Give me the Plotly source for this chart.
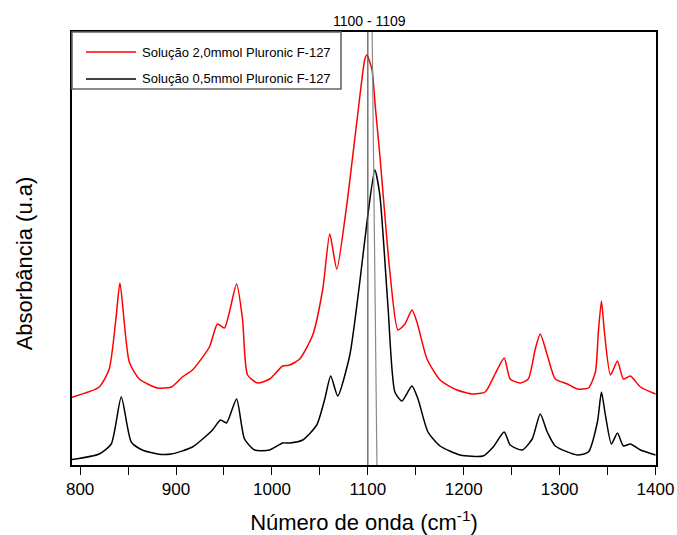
import plotly.graph_objects as go

# Wavenumbers (cm-1) and absorbance (arbitrary units)
red_x = [788.5, 819.9, 830.3, 837.3, 841.5, 851.2, 861.7, 880.5, 895.1, 906.6, 917.1, 934.8,
         943.2, 950.5, 963.1, 969.3, 974.6, 985.0, 997.6, 1011.2, 1018.5, 1028.9, 1042.5,
         1053.0, 1060.3, 1067.6, 1078.0, 1088.5, 1096.9, 1099.0, 1104.2, 1108.0, 1112.5, 1123.0,
         1131.4, 1138.7, 1146.0, 1151.2, 1161.7, 1175.3, 1193.0, 1209.8, 1222.3, 1232.7,
         1242.2, 1248.4, 1258.9, 1267.3, 1274.6, 1279.8, 1287.1, 1295.5, 1308.0, 1318.5,
         1330.0, 1337.3, 1340.4, 1343.6, 1346.7, 1353.0, 1360.3, 1366.5, 1373.8, 1384.3, 1400.0]
red_y = [67, 78, 96, 146, 182, 103, 86, 77, 78, 88, 95, 118,
         141, 137, 181, 146, 90, 82, 86, 99, 100, 106, 130,
         176, 231, 196, 260, 343, 406, 410, 396, 356, 310, 193,
         135, 141, 155, 143, 106, 85, 75, 71, 73, 91,
         107, 86, 82, 86, 116, 131, 110, 86, 81, 76,
         77, 93, 133, 164, 133, 90, 104, 86, 89, 78, 71]

black_x = [788.5, 819.9, 832.4, 842.9, 853.3, 864.8, 880.5, 895.1, 917.1, 938.0, 946.3, 952.6,
           963.1, 971.4, 981.9, 997.6, 1011.2, 1018.5, 1032.1, 1046.7, 1055.1, 1061.3, 1068.6,
           1081.2, 1091.6, 1100.0, 1107.3, 1112.5, 1120.9, 1128.2, 1135.5, 1146.0, 1152.3,
           1162.7, 1175.3, 1196.2, 1220.2, 1230.7, 1242.2, 1248.4, 1261.0, 1271.4, 1279.8,
           1287.1, 1295.5, 1318.5, 1330.0, 1339.4, 1343.6, 1347.7, 1354.0, 1360.3, 1366.5,
           1373.8, 1384.3, 1400.0]
black_y = [5, 11, 21, 68, 23, 15, 11, 11, 18, 35, 45, 42,
           66, 26, 15, 15, 22, 22, 25, 40, 66, 89, 69,
           110, 183, 250, 295, 270, 160, 73, 64, 79, 66,
           33, 19, 10, 9, 18, 33, 20, 15, 26, 51,
           33, 19, 10, 13, 43, 73, 50, 21, 32, 19,
           21, 15, 10]

series_names = ["Solução 2,0mmol Pluronic F-127", "Solução 0,5mmol Pluronic F-127"]
series_colors = ["#ff0000", "#000000"]
marker_lines = [1100, 1109]
marker_label = "1100 - 1109"
x_ticks = [800, 900, 1000, 1100, 1200, 1300, 1400]
y_title = "Absorbância (u.a)"

FONT = "Liberation Sans, Arial, sans-serif"

fig = go.Figure()
fig.add_trace(go.Scatter(x=red_x, y=red_y, mode="lines", name=series_names[0], showlegend=False,
                         line=dict(color=series_colors[0], width=1.5, shape="spline", smoothing=0.6)))
fig.add_trace(go.Scatter(x=black_x, y=black_y, mode="lines", name=series_names[1], showlegend=False,
                         line=dict(color=series_colors[1], width=1.5, shape="spline", smoothing=0.6)))

# marker lines (the second one is drawn slightly slanted, as in the original)
fig.add_shape(type="line", x0=marker_lines[0], x1=marker_lines[0], y0=0, y1=1, xref="x", yref="paper",
              line=dict(color="#505050", width=1.2))
fig.add_shape(type="line", x0=marker_lines[1] + 0.5, x1=marker_lines[1] - 4.5, y0=0, y1=1, xref="x", yref="paper",
              line=dict(color="#8a8a8a", width=1.2))
fig.add_annotation(x=1102, y=1, xref="x", yref="paper",
                   text=marker_label, showarrow=False, yanchor="bottom", yshift=1,
                   font=dict(family=FONT, size=14, color="#000"))

# y-axis title (placed slightly below centre, as in the original)
fig.add_annotation(xref="paper", yref="paper", x=-0.082, y=0.466, text=y_title, textangle=-90,
                   showarrow=False, xanchor="center", yanchor="middle",
                   font=dict(family=FONT, size=22, color="#000"))

# legend box drawn by hand
fig.add_shape(type="rect", xref="paper", yref="paper", x0=0, x1=0.4606, y0=0.8684, y1=1.0,
              fillcolor="white", line=dict(color="#666666", width=1.6), layer="above")
legend_y = [0.9538, 0.8915]
for name, color, ly in zip(series_names, series_colors, legend_y):
    fig.add_shape(type="line", xref="paper", yref="paper", x0=0.024, x1=0.1096, y0=ly, y1=ly,
                  line=dict(color=color, width=1.5), layer="above")
    fig.add_annotation(xref="paper", yref="paper", x=0.1164, y=ly, text=name, showarrow=False,
                       xanchor="left", yanchor="middle", font=dict(family=FONT, size=13, color="#000"))

fig.update_layout(
    width=677, height=535,
    margin=dict(l=72, r=21, t=32, b=70),
    paper_bgcolor="white", plot_bgcolor="white",
    font=dict(family=FONT, color="#000"),
    showlegend=False,
    xaxis=dict(range=[791.5, 1400.5], tickvals=x_ticks, ticks="outside", ticklen=8, tickwidth=1.2,
               tickcolor="#000", showline=True, linecolor="#000", linewidth=1.5, mirror=True,
               showgrid=False, zeroline=False, tickfont=dict(family=FONT, size=17), automargin=False,
               minor=dict(ticks="outside", dtick=50, tick0=800, ticklen=8, tickwidth=1.2, tickcolor="#000"),
               title=dict(text="Número de onda (cm<sup>-1</sup>)", font=dict(family=FONT, size=22), standoff=17)),
    yaxis=dict(range=[0, 433], showticklabels=False, ticks="", showline=True, linecolor="#000",
               linewidth=1.5, mirror=True, showgrid=False, zeroline=False, automargin=False),
)

fig.write_html("out.html")
